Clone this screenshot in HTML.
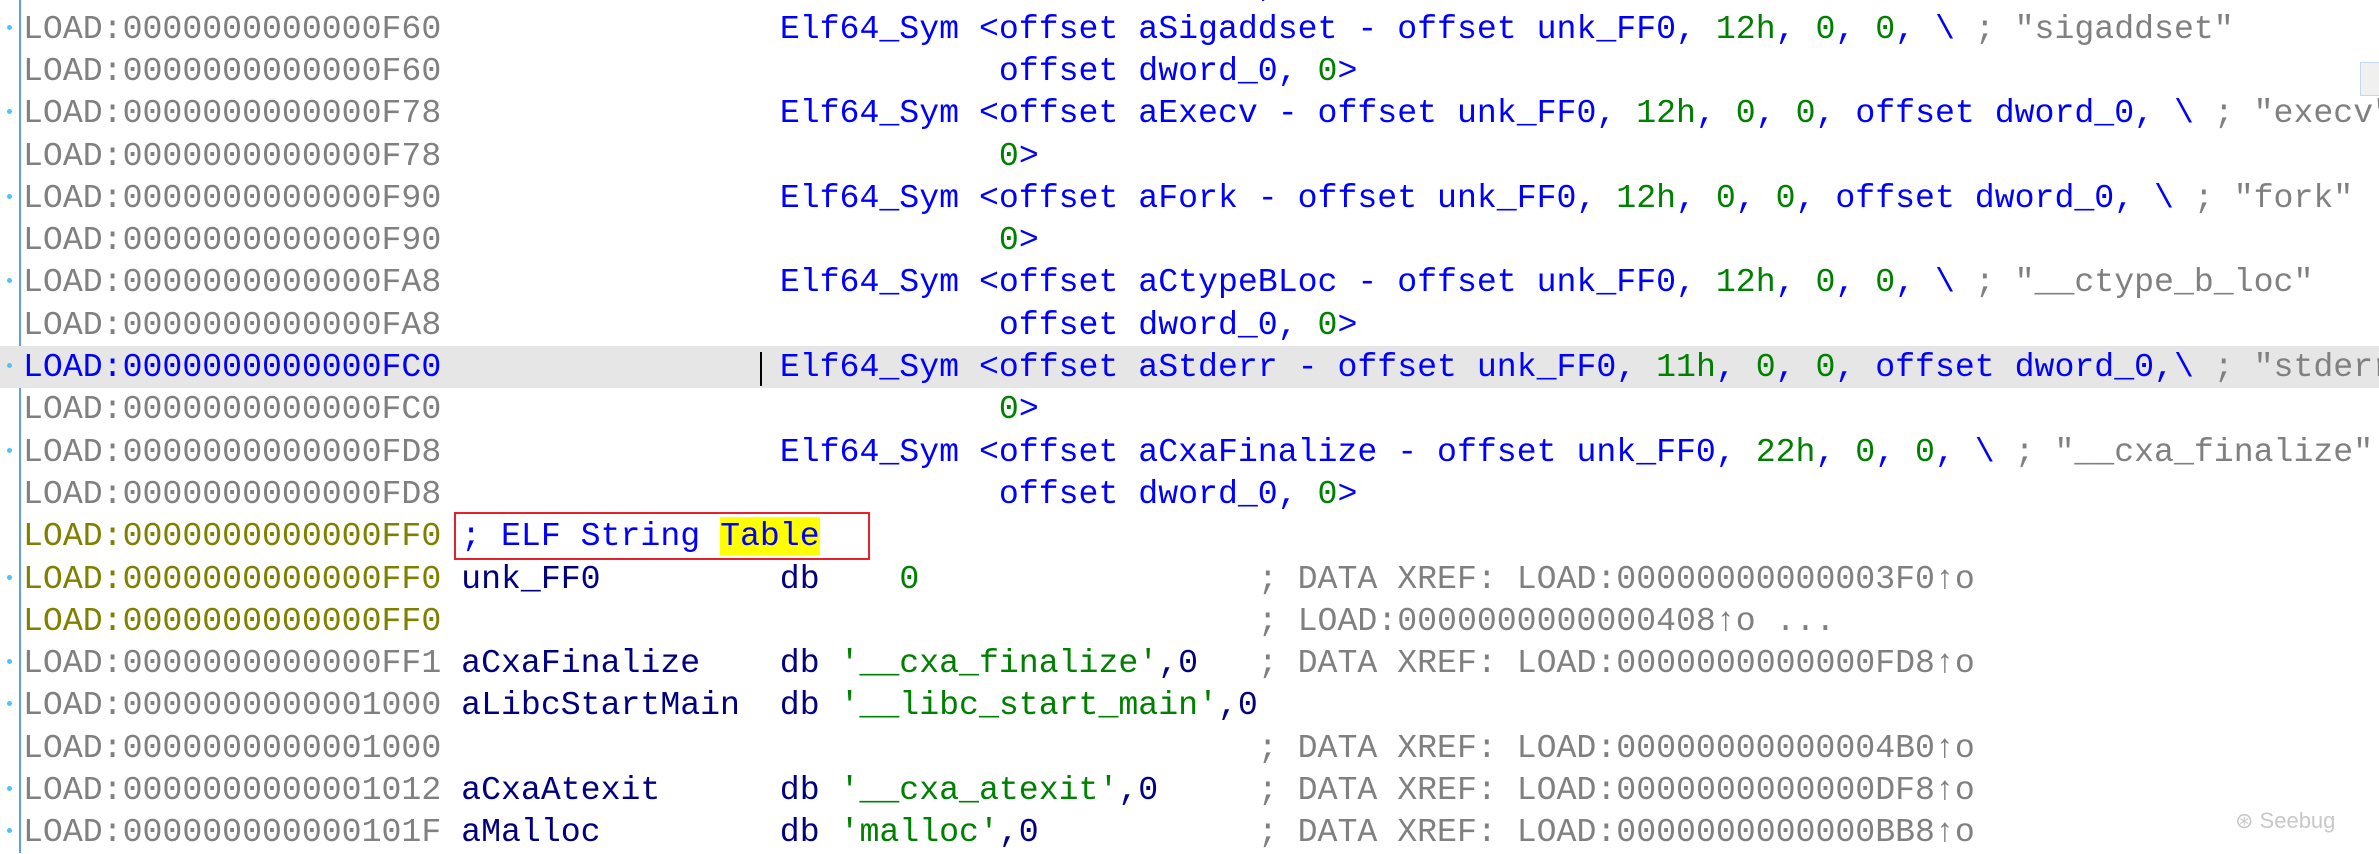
<!DOCTYPE html>
<html><head><meta charset="utf-8"><style>
html,body{margin:0;padding:0;width:2379px;height:853px;overflow:hidden;background:#fff}
#w{position:absolute;left:0;top:-34.6px;width:2379px}
.r{position:relative;height:42.3px;line-height:42.3px;font-family:"Liberation Mono",monospace;font-size:33.2px;white-space:pre;color:#808080}
.r.hl{background:#e6e6e6}
.d{position:absolute;left:7px;top:17px;width:5px;height:5px;border-radius:50%;background:#4fc3f7}
.t{position:absolute;left:23px;top:0}
.a{color:#808080}.o{color:#808000}.ab{color:#0000ff}
.b{color:#0000ff}.g{color:#008000}.n{color:#000080}.c{color:#808080}
.y{background:#ffff00}
#vl{position:absolute;left:19px;top:0;width:2px;height:853px;background:#5aa0e0}
#box{position:absolute;left:454px;top:512px;width:412px;height:44px;border:2.5px solid #e8202a}
#cur{position:absolute;left:760px;top:352px;width:2px;height:34px;background:#000}
#sb{position:absolute;left:2360px;top:62px;width:19px;height:32px;background:#f0f0f0;border:1px solid #c0d8f0}
#wm{position:absolute;left:2235px;top:808px;font-family:"Liberation Sans",sans-serif;font-size:22px;color:#c8c8c8}
</style></head><body>
<div id="vl"></div>
<div id="w">
<div class="r"><span class="t"><span class="a">LOAD:0000000000000F48</span>                           <span class="b">offset dword_0, 0&gt;</span></span></div>
<div class="r"><span class="d"></span><span class="t"><span class="a">LOAD:0000000000000F60</span>                 <span class="b">Elf64_Sym &lt;offset aSigaddset - offset unk_FF0, </span><span class="g">12h</span><span class="b">, </span><span class="g">0</span><span class="b">, </span><span class="g">0</span><span class="b">, \ </span><span class="c">; "sigaddset"</span></span></div>
<div class="r"><span class="t"><span class="a">LOAD:0000000000000F60</span>                            <span class="b">offset dword_0, </span><span class="g">0</span><span class="b">&gt;</span></span></div>
<div class="r"><span class="d"></span><span class="t"><span class="a">LOAD:0000000000000F78</span>                 <span class="b">Elf64_Sym &lt;offset aExecv - offset unk_FF0, </span><span class="g">12h</span><span class="b">, </span><span class="g">0</span><span class="b">, </span><span class="g">0</span><span class="b">, offset dword_0, \ </span><span class="c">; "execv"</span></span></div>
<div class="r"><span class="t"><span class="a">LOAD:0000000000000F78</span>                            <span class="g">0</span><span class="b">&gt;</span></span></div>
<div class="r"><span class="d"></span><span class="t"><span class="a">LOAD:0000000000000F90</span>                 <span class="b">Elf64_Sym &lt;offset aFork - offset unk_FF0, </span><span class="g">12h</span><span class="b">, </span><span class="g">0</span><span class="b">, </span><span class="g">0</span><span class="b">, offset dword_0, \ </span><span class="c">; "fork"</span></span></div>
<div class="r"><span class="t"><span class="a">LOAD:0000000000000F90</span>                            <span class="g">0</span><span class="b">&gt;</span></span></div>
<div class="r"><span class="d"></span><span class="t"><span class="a">LOAD:0000000000000FA8</span>                 <span class="b">Elf64_Sym &lt;offset aCtypeBLoc - offset unk_FF0, </span><span class="g">12h</span><span class="b">, </span><span class="g">0</span><span class="b">, </span><span class="g">0</span><span class="b">, \ </span><span class="c">; "__ctype_b_loc"</span></span></div>
<div class="r"><span class="t"><span class="a">LOAD:0000000000000FA8</span>                            <span class="b">offset dword_0, </span><span class="g">0</span><span class="b">&gt;</span></span></div>
<div class="r hl"><span class="d"></span><span class="t"><span class="ab">LOAD:0000000000000FC0</span>                 <span class="b">Elf64_Sym &lt;offset aStderr - offset unk_FF0, </span><span class="g">11h</span><span class="b">, </span><span class="g">0</span><span class="b">, </span><span class="g">0</span><span class="b">, offset dword_0,\ </span><span class="c">; "stderr"</span></span></div>
<div class="r"><span class="t"><span class="a">LOAD:0000000000000FC0</span>                            <span class="g">0</span><span class="b">&gt;</span></span></div>
<div class="r"><span class="d"></span><span class="t"><span class="a">LOAD:0000000000000FD8</span>                 <span class="b">Elf64_Sym &lt;offset aCxaFinalize - offset unk_FF0, </span><span class="g">22h</span><span class="b">, </span><span class="g">0</span><span class="b">, </span><span class="g">0</span><span class="b">, \ </span><span class="c">; "__cxa_finalize"</span></span></div>
<div class="r"><span class="t"><span class="a">LOAD:0000000000000FD8</span>                            <span class="b">offset dword_0, </span><span class="g">0</span><span class="b">&gt;</span></span></div>
<div class="r"><span class="t"><span class="o">LOAD:0000000000000FF0</span> <span class="b">; ELF String <span class="y">Table</span></span></span></div>
<div class="r"><span class="d"></span><span class="t"><span class="o">LOAD:0000000000000FF0</span> <span class="n">unk_FF0         db    </span><span class="g">0</span>                 <span class="c">; DATA XREF: LOAD:00000000000003F0↑o</span></span></div>
<div class="r"><span class="t"><span class="o">LOAD:0000000000000FF0</span>                                         <span class="c">; LOAD:0000000000000408↑o ...</span></span></div>
<div class="r"><span class="d"></span><span class="t"><span class="a">LOAD:0000000000000FF1</span> <span class="n">aCxaFinalize    db </span><span class="g">'__cxa_finalize'</span><span class="n">,0</span>   <span class="c">; DATA XREF: LOAD:0000000000000FD8↑o</span></span></div>
<div class="r"><span class="d"></span><span class="t"><span class="a">LOAD:0000000000001000</span> <span class="n">aLibcStartMain  db </span><span class="g">'__libc_start_main'</span><span class="n">,0</span></span></div>
<div class="r"><span class="t"><span class="a">LOAD:0000000000001000</span>                                         <span class="c">; DATA XREF: LOAD:00000000000004B0↑o</span></span></div>
<div class="r"><span class="d"></span><span class="t"><span class="a">LOAD:0000000000001012</span> <span class="n">aCxaAtexit      db </span><span class="g">'__cxa_atexit'</span><span class="n">,0</span>     <span class="c">; DATA XREF: LOAD:0000000000000DF8↑o</span></span></div>
<div class="r"><span class="d"></span><span class="t"><span class="a">LOAD:000000000000101F</span> <span class="n">aMalloc         db </span><span class="g">'malloc'</span><span class="n">,0</span>           <span class="c">; DATA XREF: LOAD:0000000000000BB8↑o</span></span></div>
</div>
<div id="box"></div>
<div id="cur"></div>
<div id="sb"></div>
<div id="wm">⊛ Seebug</div>
</body></html>
